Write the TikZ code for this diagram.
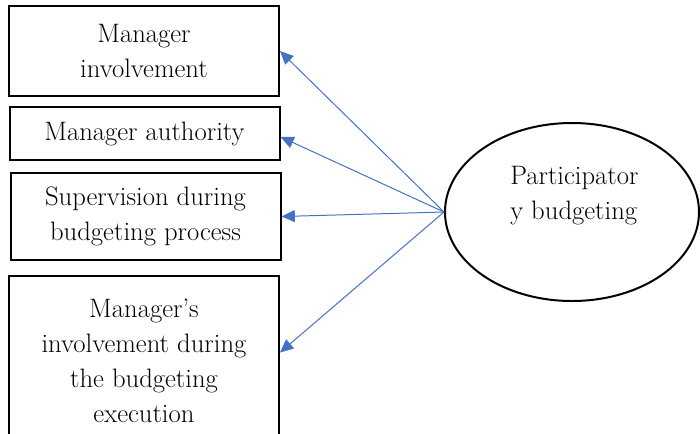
\documentclass[tikz,border=0pt]{standalone}
\usepackage{fontspec}
\usepackage{xcolor}
\usetikzlibrary{shapes.geometric,arrows.meta}
\definecolor{pblue}{RGB}{68,114,196}

\begin{document}
\begin{tikzpicture}[x=0.75pt,y=-0.75pt,
  factor/.style={draw, line width=1.5pt, minimum width=202.5pt, align=center, inner sep=0pt,
    font=\fontsize{20}{26.25}\selectfont},
  link/.style={pblue, line width=0.75pt, -{Triangle[length=10pt,width=9pt]}}]
\useasboundingbox (0,0) rectangle (700,433);
\node[factor, minimum height=67.5pt] (inv) at (144,51) {Manager\\involvement};
\node[factor, minimum height=39.75pt] (auth) at (144.5,133.5) {Manager authority};
\node[factor, minimum height=65.25pt] (sup) at (145.5,216.5) {Supervision during\\budgeting process};
\node[factor, minimum height=126.75pt] (exe) at (144,360.5) {Manager’s\\involvement during\\the budgeting\\execution};
\node[draw, ellipse, line width=1.5pt, minimum width=190.5pt, minimum height=133.5pt] (pb) at (572,212) {};
\node[align=left, anchor=north west, inner sep=0pt, font=\fontsize{20}{26.25}\selectfont] (pbtext) at (510,166) {Participator\\y budgeting};
\draw[link] (pb.west) -- (inv.east);
\draw[link] (pb.west) -- ([yshift=-2.5pt]auth.east);
\draw[link] (pb.west) -- (sup.east);
\draw[link] (pb.west) -- ([yshift=6pt]exe.east);
\end{tikzpicture}
\end{document}
